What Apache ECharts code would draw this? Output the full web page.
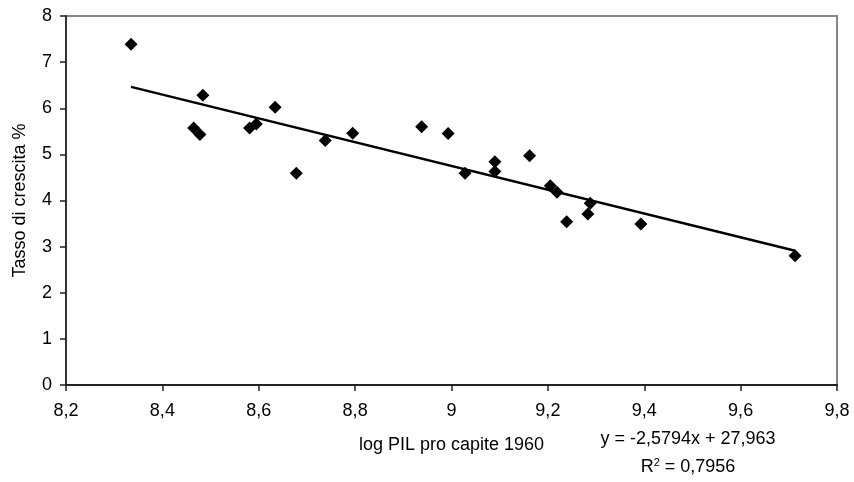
<!DOCTYPE html>
<html>
<head>
<meta charset="utf-8">
<script src="https://cdn.jsdelivr.net/npm/echarts@6/dist/echarts.min.js"></script>
<style>html,body{margin:0;padding:0;background:#fff}#c{width:854px;height:482px}</style>
</head>
<body>
<div id="c"></div>
<script>
var xValues = [8.335, 8.484, 8.465, 8.478, 8.581, 8.595, 8.634, 8.678, 8.738, 8.795, 8.938, 8.993, 9.028, 9.090, 9.090, 9.162, 9.205, 9.219, 9.239, 9.288, 9.283, 9.393, 9.713];
var yValues = [7.39, 6.28, 5.57, 5.43, 5.57, 5.66, 6.02, 4.59, 5.30, 5.46, 5.60, 5.45, 4.59, 4.84, 4.63, 4.97, 4.32, 4.18, 3.54, 3.94, 3.71, 3.49, 2.80];
var trendX = [8.335, 9.713];
var trendY = [6.464, 2.909];
var xTicks = [8.2, 8.4, 8.6, 8.8, 9, 9.2, 9.4, 9.6, 9.8];
var yTicks = [0, 1, 2, 3, 4, 5, 6, 7, 8];
var xName = 'log PIL pro capite 1960';
var yName = 'Tasso di crescita %';
var eqText = 'y = -2,5794x + 27,963';
var r2Text = '0,7956';

var pts = xValues.map(function (x, i) { return [x, yValues[i]]; });
var trend = trendX.map(function (x, i) { return [x, trendY[i]]; });
function fmt(v) { return String(Number(v.toFixed(1))).replace('.', ','); }
var FONT = 'Liberation Sans, Arial, sans-serif';
var FS = 18;

var chart = echarts.init(document.getElementById('c'), null, { renderer: 'canvas' });
chart.setOption({
  animation: false,
  backgroundColor: '#fff',
  grid: { left: 66, right: 17, top: 16, bottom: 97, show: true, borderColor: '#858585', borderWidth: 2, backgroundColor: 'transparent' },
  xAxis: {
    type: 'value', min: xTicks[0], max: xTicks[xTicks.length - 1], interval: 0.2,
    name: xName, nameLocation: 'middle', nameGap: 51,
    nameTextStyle: { fontFamily: FONT, fontSize: FS, color: '#000' },
    axisLine: { show: true, lineStyle: { color: '#222', width: 2 } },
    axisTick: { show: true, length: 6, lineStyle: { color: '#222', width: 1.5 } },
    axisLabel: { formatter: fmt, fontFamily: FONT, fontSize: FS, color: '#000', margin: 17 },
    splitLine: { show: false }
  },
  yAxis: {
    type: 'value', min: yTicks[0], max: yTicks[yTicks.length - 1], interval: 1,
    name: yName, nameLocation: 'middle', nameGap: 37, nameRotate: 90,
    nameTextStyle: { fontFamily: FONT, fontSize: FS, color: '#000' },
    axisLine: { show: true, lineStyle: { color: '#333', width: 2 } },
    axisTick: { show: true, length: 6, lineStyle: { color: '#222', width: 1.5 } },
    axisLabel: { formatter: fmt, fontFamily: FONT, fontSize: FS, color: '#000', margin: 14 },
    splitLine: { show: false }
  },
  series: [
    {
      type: 'line', data: trend, symbol: 'none', z: 2,
      lineStyle: { color: '#000', width: 2.5 }
    },
    {
      type: 'scatter', data: pts, symbol: 'diamond', symbolSize: 13, z: 3,
      itemStyle: { color: '#000', opacity: 1 }
    }
  ],
  graphic: [
    {
      type: 'text', x: 688, y: 439, z: 10,
      style: { text: eqText, font: FS + 'px ' + FONT, fill: '#000', align: 'center', verticalAlign: 'middle' }
    },
    {
      type: 'text', x: 688, y: 467, z: 10,
      style: {
        text: '{n|R}{s|2}{n| = ' + r2Text + '}',
        align: 'center', verticalAlign: 'middle',
        rich: {
          n: { fontSize: FS, fontFamily: FONT, fill: '#000' },
          s: { fontSize: 11, fontFamily: FONT, fill: '#000', verticalAlign: 'top', padding: [0, 0, 9, 0] }
        }
      }
    }
  ]
});
</script>
</body>
</html>
